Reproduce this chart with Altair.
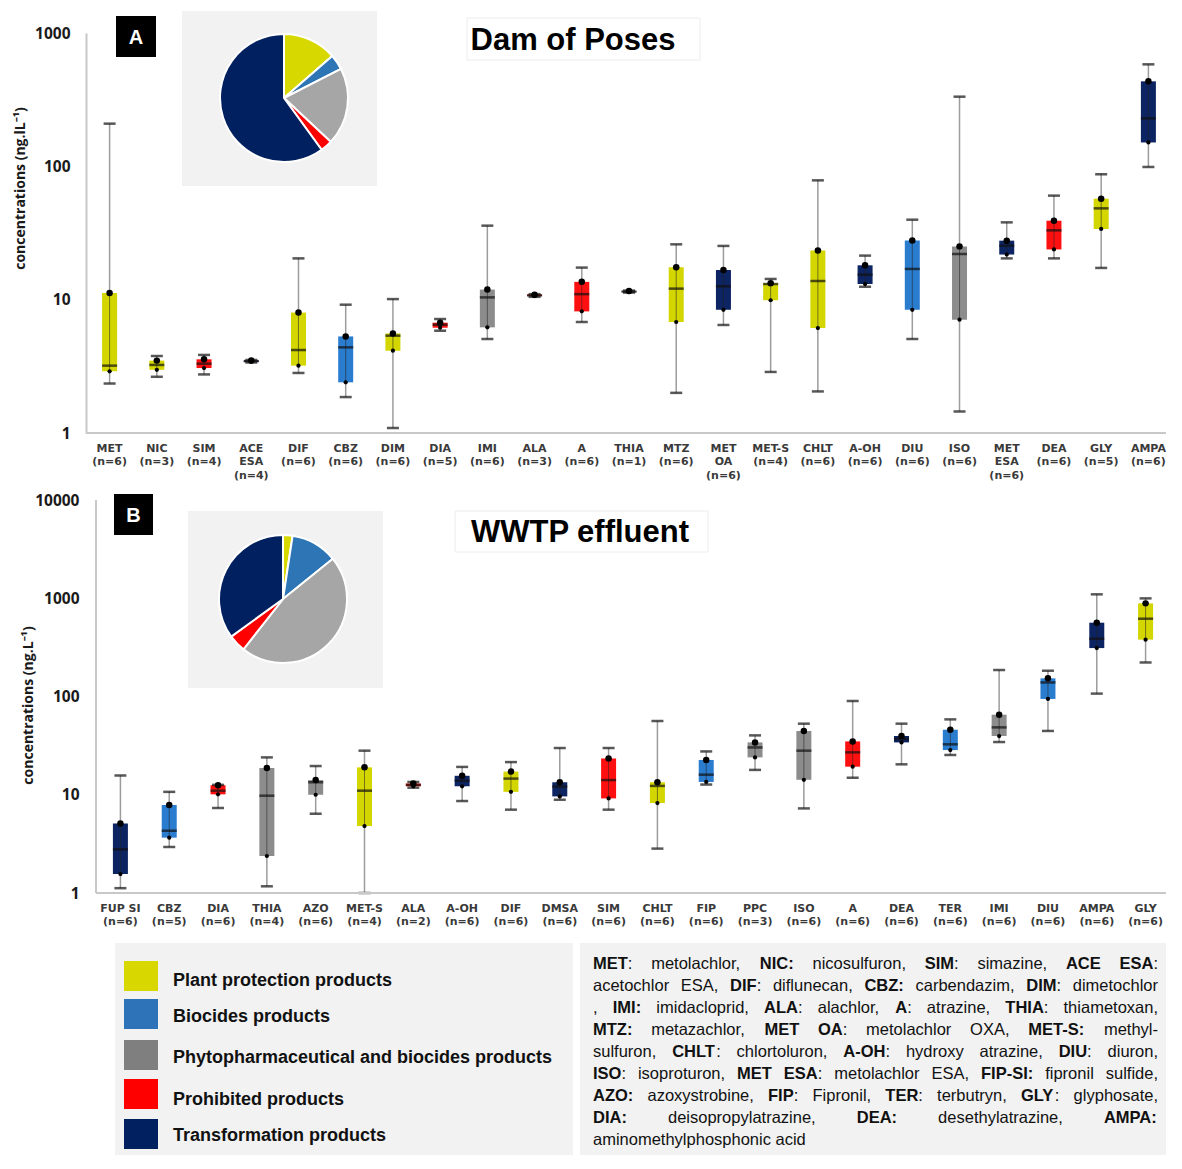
import altair as alt
import pandas as pd

# ---------------- Panel A : Dam of Poses ----------------
a_labels = ["MET|(n=6)", "NIC|(n=3)", "SIM|(n=4)", "ACE|ESA|(n=4)", "DIF|(n=6)", "CBZ|(n=6)",
            "DIM|(n=6)", "DIA|(n=5)", "IMI|(n=6)", "ALA|(n=3)", "A|(n=6)", "THIA|(n=1)",
            "MTZ|(n=6)", "MET|OA|(n=6)", "MET-S|(n=4)", "CHLT|(n=6)", "A-OH|(n=6)", "DIU|(n=6)",
            "ISO|(n=6)", "MET|ESA|(n=6)", "DEA|(n=6)", "GLY|(n=5)", "AMPA|(n=6)"]
a_groups = ["ppp", "ppp", "prohib", "tp", "ppp", "bio", "ppp", "prohib", "phyto", "prohib", "prohib",
            "phyto", "ppp", "tp", "ppp", "ppp", "tp", "bio", "phyto", "tp", "prohib", "ppp", "tp"]
a_min = [2.35, 2.64, 2.75, 3.38, 2.82, 1.86, 1.09, 5.85, 5.07, 10.5, 6.8, 11.3,
         2.0, 6.46, 2.87, 2.05, 12.5, 5.07, 1.45, 20.4, 20.4, 17.3, 98.9]
a_q1 = [2.9, 2.98, 3.07, 3.42, 3.2, 2.4, 4.14, 6.16, 6.2, 10.65, 8.17, 11.4,
        6.8, 8.4, 9.9, 6.13, 13.1, 8.4, 7.08, 21.8, 23.8, 33.9, 151]
a_med = [3.2, 3.24, 3.31, 3.46, 4.19, 4.39, 5.37, 6.49, 10.4, 10.77, 11.0, 11.5,
         12.1, 12.6, 13.1, 13.8, 15.4, 17.0, 22.0, 25.4, 33.1, 48.4, 229]
a_q3 = [11.2, 3.49, 3.57, 3.5, 8.0, 5.3, 5.58, 6.72, 11.9, 10.9, 13.6, 11.6,
        17.5, 16.7, 13.3, 23.4, 18.1, 27.8, 25.1, 27.7, 39.1, 57.2, 434]
a_max = [209, 3.78, 3.85, 3.53, 20.4, 9.17, 10.1, 7.16, 35.9, 11.0, 17.4, 11.7,
         26.0, 25.3, 14.3, 78.5, 21.4, 39.8, 333, 38.0, 60.3, 87.2, 582]

# ---------------- Panel B : WWTP effluent ----------------
b_labels = ["FUP SI|(n=6)", "CBZ|(n=5)", "DIA|(n=6)", "THIA|(n=4)", "AZO|(n=6)", "MET-S|(n=4)",
            "ALA|(n=2)", "A-OH|(n=6)", "DIF|(n=6)", "DMSA|(n=6)", "SIM|(n=6)", "CHLT|(n=6)",
            "FIP|(n=6)", "PPC|(n=3)", "ISO|(n=6)", "A|(n=6)", "DEA|(n=6)", "TER|(n=6)",
            "IMI|(n=6)", "DIU|(n=6)", "AMPA|(n=6)", "GLY|(n=6)"]
b_groups = ["tp", "bio", "prohib", "phyto", "phyto", "ppp", "prohib", "tp", "ppp", "tp", "prohib",
            "ppp", "bio", "phyto", "phyto", "prohib", "tp", "bio", "phyto", "bio", "tp", "ppp"]
b_min = [1.12, 2.94, 7.33, 1.17, 6.41, 1.0, 11.8, 8.63, 7.05, 8.9, 7.05, 2.83,
         12.7, 17.9, 7.26, 14.9, 20.4, 25.4, 34.4, 44.6, 107, 222]
b_q1 = [1.56, 3.66, 10.1, 2.38, 10.0, 4.8, 12.2, 12.2, 10.7, 9.62, 9.18, 8.24,
        13.5, 24.0, 14.2, 19.3, 34.1, 28.5, 39.6, 94.4, 311, 379]
b_med = [2.78, 4.3, 11.0, 9.78, 13.4, 11.0, 12.6, 13.9, 14.6, 12.1, 14.1, 12.3,
         16.0, 30.3, 28.1, 27.0, 36.9, 32.6, 48.5, 139, 387, 619]
b_q3 = [5.1, 7.87, 12.5, 18.7, 14.1, 19.0, 13.0, 15.6, 17.2, 13.4, 23.4, 13.4,
        22.6, 34.1, 44.6, 34.9, 39.6, 45.9, 65.3, 153, 564, 887]
b_max = [15.7, 10.7, 12.6, 24.0, 19.6, 28.1, 13.5, 19.2, 21.5, 29.9, 29.9, 56.3,
         27.6, 40.2, 52.9, 90, 52.9, 58.5, 186, 183, 1096, 997]

# ---------------- Pie insets (share of total, %) ----------------
pie_groups = ["ppp", "bio", "phyto", "prohib", "tp"]
pie_a = [13.6, 3.9, 19.5, 3.0, 60.0]
pie_b = [2.4, 11.8, 46.4, 4.4, 35.0]

# ---------------- Legend and abbreviation text ----------------
legend_labels = ["Plant protection products", "Biocides products",
                 "Phytopharmaceutical and biocides products", "Prohibited products",
                 "Transformation products"]
# *...* marks bold runs
abbr_lines = [
    "*MET*: metolachlor, *NIC:* nicosulfuron, *SIM*: simazine, *ACE ESA*:",
    "acetochlor ESA, *DIF*: diflunecan, *CBZ:* carbendazim, *DIM*: dimetochlor",
    ", *IMI:* imidacloprid, *ALA*: alachlor, *A*: atrazine, *THIA*: thiametoxan,",
    "*MTZ:* metazachlor, *MET OA*: metolachlor OXA, *MET-S:* methyl-",
    "sulfuron, *CHLT*: chlortoluron, *A-OH*: hydroxy atrazine, *DIU*: diuron,",
    "*ISO*: isoproturon, *MET ESA*: metolachlor ESA, *FIP-SI:* fipronil sulfide,",
    "*AZO:* azoxystrobine, *FIP*: Fipronil, *TER*: terbutryn, *GLY*: glyphosate,",
    "*DIA:* deisopropylatrazine, *DEA:* desethylatrazine, *AMPA:*",
    "aminomethylphosphonic  acid",
]

# ---------------- Styles / layout (pixels) ----------------
box_colors = {"ppp": "#d3d600", "bio": "#2a7ccf", "phyto": "#8c8c8c", "prohib": "#ff1010", "tp": "#0d2462"}
pie_colors = {"ppp": "#d6d800", "bio": "#2e75b6", "phyto": "#a6a6a6", "prohib": "#ff0000", "tp": "#002060"}
leg_colors = {"ppp": "#d8d800", "bio": "#2e72b8", "phyto": "#7f7f7f", "prohib": "#ff0000", "tp": "#002060"}

W = 1080
TXT_SIZE = 16.5
TXT_X0, TXT_X1 = 507, 1072
abbr_y = [21, 43, 65, 87, 109, 131, 153, 175, 197]
leg_sw_y = [33, 71, 112, 151, 191]
leg_tx_y = [38, 74, 115, 157, 193]
BH = 212
one = pd.DataFrame({"k": [0]})

# Arial / Liberation Sans advance widths (per 1000 em) for justified layout
_reg = dict(zip("ABCDEFGHIJKLMNOPQRSTUVWXYZ",
                [667, 667, 722, 722, 667, 611, 778, 722, 278, 500, 667, 556, 833, 722, 778, 667, 778,
                 722, 667, 611, 722, 667, 944, 667, 667, 611]))
_reg.update(zip("abcdefghijklmnopqrstuvwxyz",
                [556, 556, 500, 556, 556, 278, 556, 556, 222, 222, 500, 222, 833, 556, 556, 556, 556,
                 333, 500, 278, 556, 500, 722, 500, 500, 500]))
_reg.update({" ": 278, ",": 278, ":": 278, "-": 333, ".": 278})
_bold = dict(zip("ABCDEFGHIJKLMNOPQRSTUVWXYZ",
                 [722, 722, 722, 722, 667, 611, 778, 722, 278, 556, 722, 611, 833, 722, 778, 667, 778,
                  722, 667, 611, 722, 667, 944, 667, 667, 611]))
_bold.update(zip("abcdefghijklmnopqrstuvwxyz",
                 [556, 611, 556, 611, 556, 333, 611, 611, 278, 278, 556, 278, 889, 611, 611, 611, 611,
                  389, 556, 333, 611, 556, 778, 556, 556, 500]))
_bold.update({" ": 278, ",": 278, ":": 333, "-": 333, ".": 278})


def tw(s, bold, size):
    t = _bold if bold else _reg
    return sum(t.get(c, 556) for c in s) * size / 1000.0


def layout_line(markup, y, justify):
    runs, bold, cur = [], False, ""
    for ch in markup:
        if ch == "*":
            if cur:
                runs.append((cur, bold))
            cur, bold = "", not bold
        else:
            cur += ch
    if cur:
        runs.append((cur, bold))
    if not justify:
        out, x = [], TXT_X0
        for txt, b in runs:
            out.append({"txt": txt, "bold": b, "px": x, "py": y})
            x += tw(txt, b, TXT_SIZE)
        return out
    words, word = [], []
    for txt, b in runs:
        parts = txt.split(" ")
        for i, p in enumerate(parts):
            if i > 0:
                if word:
                    words.append(word)
                word = []
            if p:
                word.append((p, b))
    if word:
        words.append(word)
    natural = sum(tw(p, b, TXT_SIZE) for w in words for p, b in w)
    gap = (TXT_X1 - TXT_X0 - natural) / max(1, len(words) - 1)
    out, x = [], TXT_X0
    for w in words:
        for p, b in w:
            out.append({"txt": p, "bold": b, "px": x, "py": y})
            x += tw(p, b, TXT_SIZE)
        x += gap
    return out


def rect(x1, x2, y1, y2, fill, stroke=None):
    kw = {"fill": fill}
    if stroke:
        kw.update(stroke=stroke, strokeWidth=1)
    return alt.Chart(one).mark_rect(**kw).encode(
        x=alt.value(x1), x2=alt.value(x2), y=alt.value(y1), y2=alt.value(y2))


def label(txt, x, y, size, color="black", font="Liberation Sans", weight="bold"):
    return alt.Chart(one).mark_text(text=txt, font=font, fontSize=size, fontWeight=weight,
                                    color=color, align="center", baseline="middle").encode(
        x=alt.value(x), y=alt.value(y))


def panel(labels, groups, mn, q1, med, q3, mx, ytop, yvals, H, xrange, ytitle, tx, ty,
          lpad, ydomain, pie_vals, pie_c, pie_box, letter, letter_box, title, title_xy, title_box,
          yline_x):
    df = pd.DataFrame({"cat": labels, "grp": groups, "mn": mn, "q1": q1, "med": med,
                       "q3": q3, "mx": mx})
    df["hex"] = df["grp"].map(box_colors)
    pdf = pd.DataFrame({"grp": pie_groups, "val": pie_vals, "ord": list(range(len(pie_vals)))})
    pdf["hex"] = pdf["grp"].map(pie_colors)

    xenc = alt.X("cat:N", sort=labels, title=None,
                 scale=alt.Scale(type="band", range=xrange, paddingInner=0, paddingOuter=0),
                 axis=alt.Axis(labelExpr="split(datum.label, '|')", labelAngle=0, labelAlign="center",
                               labelBaseline="top", labelPadding=9, labelLineHeight=13.5,
                               labelFont="DejaVu Sans", labelFontWeight="bold", labelFontSize=11,
                               labelColor="#3a3a3a", ticks=False, tickSize=0, domain=False,
                               grid=False, labelOverlap=False, labelLimit=300))
    ysc = alt.Scale(type="log", domain=[1, ytop], nice=False)
    yax = alt.Axis(values=yvals, format="d", title=ytitle, titleX=tx, titleY=ty,
                   titleBaseline="middle", titleAlign="center", titleFont="Open Sans",
                   titleFontWeight="bold", titleFontSize=14, titleColor="#1a1a1a",
                   labelFont="Open Sans", labelFontWeight="bold", labelFontSize=15.5,
                   labelColor="#1a1a1a", labelPadding=lpad, ticks=False, tickSize=0,
                   domain=ydomain, domainColor="#c8c8c8", domainWidth=2, grid=False)

    base = alt.Chart(df)
    layers = [
        rect(pie_box[0], pie_box[1], pie_box[2], pie_box[3], "#f2f2f2"),
        alt.Chart(pdf).mark_arc(outerRadius=64, stroke="white", strokeWidth=2).encode(
            theta=alt.Theta("val:Q"), color=alt.Color("hex:N", scale=None),
            order=alt.Order("ord:Q"), x=alt.value(pie_c[0]), y=alt.value(pie_c[1])),
        rect(title_box[0], title_box[1], title_box[2], title_box[3], "#ffffff", "#ececec"),
        label(title, title_xy[0], title_xy[1], 31),
        rect(letter_box[0], letter_box[1], letter_box[2], letter_box[3], "#000000"),
        label(letter, (letter_box[0] + letter_box[1]) / 2, (letter_box[2] + letter_box[3]) / 2 + 1,
              20, color="white"),
        base.mark_rule(color="#9c9c9c", strokeWidth=1.5).encode(
            x=xenc, y=alt.Y("mn:Q", scale=ysc, axis=yax), y2="mx:Q"),
        base.mark_bar(size=15).encode(
            x=xenc, y=alt.Y("q1:Q", scale=ysc, axis=yax), y2="q3:Q",
            color=alt.Color("hex:N", scale=None)),
        base.mark_rule(color="#222222", strokeWidth=1, opacity=0.55).encode(
            x=xenc, y=alt.Y("q1:Q", scale=ysc, axis=yax), y2="q3:Q"),
        base.mark_tick(size=12, thickness=2.5, color="#111111").encode(
            x=xenc, y=alt.Y("mn:Q", scale=ysc, axis=yax)),
        base.mark_tick(size=12, thickness=2.5, color="#111111").encode(
            x=xenc, y=alt.Y("mx:Q", scale=ysc, axis=yax)),
        base.mark_tick(size=15, thickness=2.5, color="#111111").encode(
            x=xenc, y=alt.Y("med:Q", scale=ysc, axis=yax)),
        base.mark_circle(size=42, color="#000000", opacity=1).encode(
            x=xenc, y=alt.Y("q3:Q", scale=ysc, axis=yax)),
        base.mark_circle(size=18, color="#000000", opacity=1).encode(
            x=xenc, y=alt.Y("q1:Q", scale=ysc, axis=yax)),
        alt.Chart(one).mark_rule(color="#c8c8c8", strokeWidth=2).encode(
            x=alt.value(yline_x), x2=alt.value(W), y=alt.value(H)),
    ]
    if not ydomain:
        layers.append(alt.Chart(one).mark_rule(color="#c8c8c8", strokeWidth=2).encode(
            x=alt.value(yline_x), y=alt.value(0), y2=alt.value(H)))
    return alt.layer(*layers).properties(width=W, height=H)


panel_a = panel(a_labels, a_groups, a_min, a_q1, a_med, a_q3, a_max, 1000, [1, 10, 100, 1000], 400,
                [0, 1086], "concentrations (ng.lL\u207b\u00b9)", -66, 155, 16, True,
                pie_a, (198, 65), (96, 291, -22, 153), "A", (30, 70, -17, 24),
                "Dam of Poses", (487, 8), (381, 614, -15, 27), 0)

panel_b = panel(b_labels, b_groups, b_min, b_q1, b_med, b_q3, b_max, 10000,
                [1, 10, 100, 1000, 10000], 393,
                [10, 1084], "concentrations (ng.L\u207b\u00b9)", -58, 205, 7, False,
                pie_b, (197, 99), (102, 297, 11, 188), "B", (28, 67, -6, 35),
                "WWTP effluent", (494, 33), (369, 622, 11, 52), 10)

# ---------------- Bottom: legend + abbreviations ----------------
leg_df = pd.DataFrame({"label": legend_labels, "hex": [leg_colors[g] for g in pie_groups],
                       "y0": [v - 15 for v in leg_sw_y], "y1": [v + 15 for v in leg_sw_y],
                       "ty": leg_tx_y})
rows = []
for li, line in enumerate(abbr_lines):
    rows += layout_line(line, abbr_y[li], justify=(li < len(abbr_lines) - 1))
abbr_df = pd.DataFrame(rows)

bottom = alt.layer(
    rect(29, 487, 0, BH, "#f2f2f2"),
    rect(494, W, 0, BH, "#f2f2f2"),
    alt.Chart(leg_df).mark_rect().encode(
        x=alt.value(38), x2=alt.value(72),
        y=alt.Y("y0:Q", scale=None, axis=None), y2="y1:Q",
        color=alt.Color("hex:N", scale=None)),
    alt.Chart(leg_df).mark_text(align="left", baseline="middle", font="Liberation Sans",
                                fontSize=18, fontWeight="bold", color="#111111").encode(
        x=alt.value(87), y=alt.Y("ty:Q", scale=None, axis=None), text="label:N"),
    alt.Chart(abbr_df).transform_filter("datum.bold").mark_text(
        align="left", baseline="middle", font="Liberation Sans", fontSize=TXT_SIZE,
        fontWeight="bold", color="#111111").encode(
        x=alt.X("px:Q", scale=None, axis=None), y=alt.Y("py:Q", scale=None, axis=None),
        text="txt:N"),
    alt.Chart(abbr_df).transform_filter("!datum.bold").mark_text(
        align="left", baseline="middle", font="Liberation Sans", fontSize=TXT_SIZE,
        fontWeight="normal", color="#111111").encode(
        x=alt.X("px:Q", scale=None, axis=None), y=alt.Y("py:Q", scale=None, axis=None),
        text="txt:N"),
).properties(width=W, height=BH)

top = alt.vconcat(panel_a, panel_b, spacing=13)
chart = alt.vconcat(top, bottom, spacing=16).configure_view(stroke=None).properties(
    padding={"left": 5, "top": 3, "right": 0, "bottom": 0})

chart.save("out.html", embed_options={"renderer": "svg", "actions": False})
